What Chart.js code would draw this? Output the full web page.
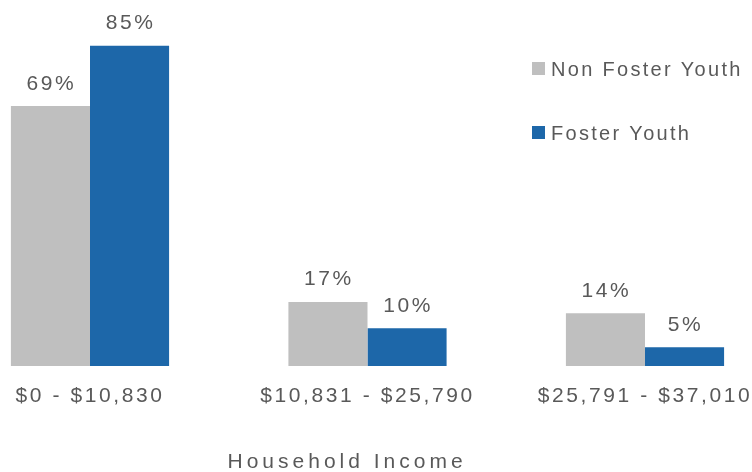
<!DOCTYPE html>
<html>
<head>
<meta charset="utf-8">
<script src="https://cdn.jsdelivr.net/npm/chart.js@4"></script>
<style>
html, body { margin: 0; padding: 0; background: #fff; }
#wrap { width: 752px; height: 472px; position: relative; }
</style>
</head>
<body>
<div id="wrap"><canvas id="myChart"></canvas></div>
<script>
// data
var categories = ['$0 - $10,830', '$10,831 - $25,790', '$25,791 - $37,010'];
var nonFoster = [69, 17, 14];
var foster = [85, 10, 5];
var seriesNames = ['Non Foster Youth', 'Foster Youth'];
var axisTitle = 'Household Income';

var gray = '#BFBFBF';
var blue = '#1D67A9';
var textColor = '#595959';
var fontFamily = '"Liberation Sans", Arial, sans-serif';

// value labels, legend and axis title
var extras = {
  id: 'extras',
  beforeDraw: function(chart) {
    chart.ctx.letterSpacing = '2.6px';
  },
  afterDraw: function(chart) {
    var ctx = chart.ctx;
    var area = chart.chartArea;
    ctx.save();
    ctx.fillStyle = textColor;
    ctx.textBaseline = 'alphabetic';

    // percentages above bars
    ctx.font = '21px ' + fontFamily;
    ctx.letterSpacing = '2.6px';
    ctx.textAlign = 'center';
    chart.data.datasets.forEach(function(ds, i) {
      chart.getDatasetMeta(i).data.forEach(function(bar, j) {
        ctx.fillText(ds.data[j] + '%', bar.x + 1, bar.y - 16.5);
      });
    });

    // legend
    ctx.font = '20px ' + fontFamily;
    ctx.letterSpacing = '2.3px';
    ctx.textAlign = 'left';
    chart.data.datasets.forEach(function(ds, i) {
      var y = 62 + i * 64;
      ctx.fillStyle = ds.backgroundColor;
      ctx.fillRect(532, y, 13, 13);
      ctx.fillStyle = textColor;
      ctx.fillText(ds.label, 551, y + 14);
    });

    // x axis title
    ctx.font = '21px ' + fontFamily;
    ctx.letterSpacing = '4px';
    ctx.textAlign = 'left';
    ctx.fillText(axisTitle, (area.left + area.right) / 2 - 140, 468);
    ctx.restore();
  }
};

var ctx = document.getElementById('myChart').getContext('2d');
var myChart = new Chart(ctx, {
  type: 'bar',
  data: {
    labels: categories,
    datasets: [{
      label: seriesNames[0],
      data: nonFoster,
      backgroundColor: gray,
      clip: false
    }, {
      label: seriesNames[1],
      data: foster,
      backgroundColor: blue,
      clip: false
    }]
  },
  options: {
    responsive: true,
    maintainAspectRatio: false,
    animation: false,
    categoryPercentage: 0.57,
    barPercentage: 1,
    layout: { padding: { left: 90, right: 107, top: 27, bottom: 0 } },
    plugins: {
      legend: { display: false },
      tooltip: { enabled: false }
    },
    scales: {
      x: {
        offset: false,
        grid: { display: false, drawTicks: false },
        border: { display: false },
        ticks: {
          color: textColor,
          font: { family: fontFamily, size: 21 },
          padding: 18,
          maxRotation: 0,
          autoSkip: false
        },
        afterFit: function(s) {
          s.height = 106;
          s.paddingLeft = 0;
          s.paddingRight = 0;
        }
      },
      y: {
        display: false,
        min: 0,
        max: 90
      }
    }
  },
  plugins: [extras]
});
</script>
</body>
</html>
